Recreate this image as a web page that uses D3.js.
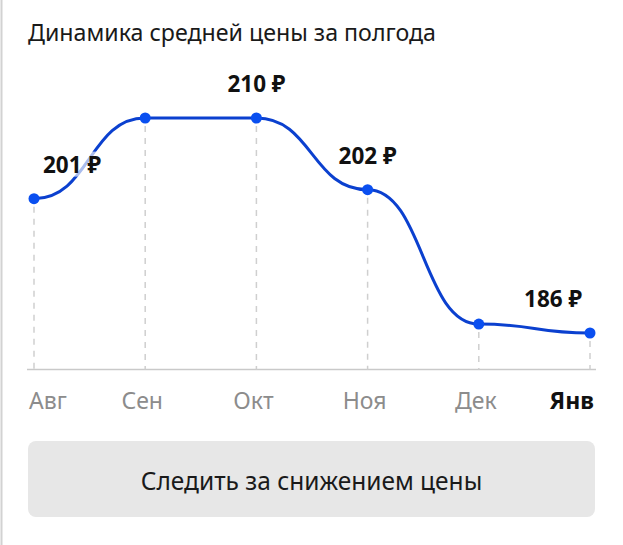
<!DOCTYPE html>
<html>
<head>
<meta charset="utf-8">
<script src="https://cdn.jsdelivr.net/npm/d3@7"></script>
<style>
  html, body { margin: 0; padding: 0; background: #fff; }
  svg { display: block; }
</style>
</head>
<body>
<svg id="chart" width="623" height="545"></svg>
<script>
const title = "Динамика средней цены за полгода";
const months = ["Авг", "Сен", "Окт", "Ноя", "Дек", "Янв"];
const prices = [201, 210, 210, 202, 187, 186];
const priceLabels = ["201 ₽", "", "210 ₽", "202 ₽", "", "186 ₽"];
const currentMonth = "Янв";
const buttonText = "Следить за снижением цены";

const FONT = "'Noto Sans', 'DejaVu Sans', sans-serif";
const svg = d3.select("#chart");

// left border
svg.append("rect").attr("x", 0.5).attr("y", 0).attr("width", 2).attr("height", 545).attr("fill", "#d2d2d2");

svg.append("text")
  .attr("x", 28).attr("y", 41)
  .attr("font-family", FONT).attr("font-size", 23.2)
  .attr("fill", "#1a1a1a")
  .text(title);

const x = d3.scalePoint().domain(months).range([34, 590]);
const y = d3.scaleLinear().domain([186, 210]).range([333, 118]);
const baseY = 369.5;

const data = months.map((m, i) => ({ m, v: prices[i], label: priceLabels[i], i }));

// baseline
svg.append("line")
  .attr("x1", 27).attr("x2", 596).attr("y1", baseY).attr("y2", baseY)
  .attr("stroke", "#c9c9c9").attr("stroke-width", 1.5);

// dashed verticals
svg.append("g").selectAll("line").data(data).join("line")
  .attr("x1", d => x(d.m)).attr("x2", d => x(d.m))
  .attr("y1", d => y(d.v) + 8).attr("y2", baseY)
  .attr("stroke", "#cfcfcf").attr("stroke-width", 1.5)
  .attr("stroke-dasharray", "6,6");

// line
const line = d3.line().x(d => x(d.m)).y(d => y(d.v)).curve(d3.curveBumpX);
svg.append("path").datum(data)
  .attr("d", line)
  .attr("fill", "none").attr("stroke", "#0b40cf").attr("stroke-width", 3);

// points
svg.append("g").selectAll("circle").data(data).join("circle")
  .attr("cx", d => x(d.m)).attr("cy", d => y(d.v)).attr("r", 5.5)
  .attr("fill", "#0a4ff0");

// value labels
const lab = svg.append("g").selectAll("g").data(data.filter(d => d.label)).join("g");
const last = months.length - 1;
lab.each(function(d) {
  const g = d3.select(this);
  const anchor = d.i === 0 ? "start" : (d.i === last ? "end" : "middle");
  const tx = d.i === 0 ? x(d.m) + 9 : (d.i === last ? x(d.m) - 8 : x(d.m));
  const t = g.append("text")
    .attr("x", tx).attr("y", y(d.v) - 26)
    .attr("text-anchor", anchor)
    .attr("font-family", FONT).attr("font-size", 22.5).attr("font-weight", 700)
    .attr("fill", "#111")
    .text(d.label);
  const bb = t.node().getBBox();
  g.insert("rect", "text")
    .attr("x", bb.x - 2).attr("y", bb.y + 3).attr("width", bb.width + 4).attr("height", bb.height - 6)
    .attr("fill", "#fff").attr("fill-opacity", 0.65);
});

// axis labels
svg.append("g").selectAll("text").data(data).join("text")
  .attr("x", d => d.i === 0 ? x(d.m) - 5 : (d.i === last ? x(d.m) + 4 : x(d.m) - 3))
  .attr("y", 409)
  .attr("text-anchor", d => d.i === 0 ? "start" : (d.i === last ? "end" : "middle"))
  .attr("font-family", FONT).attr("font-size", 23)
  .attr("font-weight", d => d.m === currentMonth ? 700 : 400)
  .attr("fill", d => d.m === currentMonth ? "#111" : "#8c8c8c")
  .text(d => d.m);

// button
svg.append("rect")
  .attr("x", 28).attr("y", 441).attr("width", 567).attr("height", 76).attr("rx", 8)
  .attr("fill", "#e7e7e7");
svg.append("text")
  .attr("x", 311.5).attr("y", 490)
  .attr("text-anchor", "middle")
  .attr("font-family", FONT).attr("font-size", 24.5)
  .attr("fill", "#1a1a1a")
  .text(buttonText);
</script>
</body>
</html>
